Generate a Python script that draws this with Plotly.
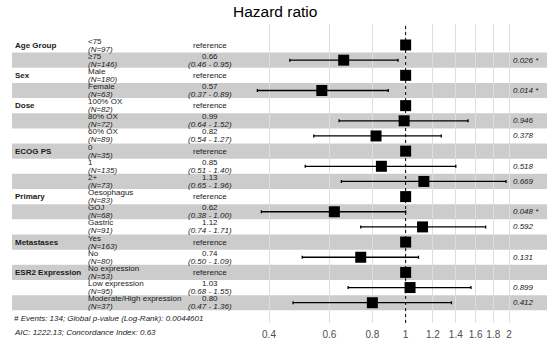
import math
import plotly.graph_objects as go

# ---------------- data ----------------
groups = ["Age Group", "Sex", "Dose", "ECOG PS", "Primary", "Metastases", "ESR2 Expression"]
group_sizes = [2, 2, 3, 3, 3, 2, 3]
levels = ["<75", "\u226575", "Male", "Female", "100% OX", "80% OX", "60% OX",
          "0", "1", "2+", "Oesophagus", "GOJ", "Gastric", "Yes", "No",
          "No expression", "Low expression", "Moderate/High expression"]
n_obs = [97, 146, 180, 63, 82, 72, 89, 35, 135, 73, 83, 68, 91, 163, 80, 53, 95, 37]
hr = [1, 0.66, 1, 0.57, 1, 0.99, 0.82, 1, 0.85, 1.13, 1, 0.62, 1.12, 1, 0.74, 1, 1.03, 0.80]
ci_low = [1, 0.46, 1, 0.37, 1, 0.64, 0.54, 1, 0.51, 0.65, 1, 0.38, 0.74, 1, 0.50, 1, 0.68, 0.47]
ci_high = [1, 0.95, 1, 0.89, 1, 1.52, 1.27, 1, 1.40, 1.96, 1, 1.00, 1.71, 1, 1.09, 1, 1.55, 1.36]
is_ref = [True, False, True, False, True, False, False, True, False, False,
          True, False, False, True, False, True, False, False]
p_values = ["", "0.026 *", "", "0.014 *", "", "0.946", "0.378", "", "0.518", "0.669",
            "", "0.048 *", "0.592", "", "0.131", "", "0.899", "0.412"]
tick_vals = [0.4, 0.6, 0.8, 1, 1.2, 1.4, 1.6, 1.8, 2]
tick_text = ["0.4", "0.6", "0.8", "1", "1.2", "1.4", "1.6", "1.8", "2"]
footer = ["# Events: 134; Global p-value (Log-Rank): 0.0044601",
          "AIC: 1222.13; Concordance Index: 0.63"]
REF_HR = 1

# ---------------- layout helpers ----------------
W, H = 550, 344
TOP, BOTTOM = 24, 323
FONT = "Liberation Sans, Arial, sans-serif"
n_rows = len(levels)
rows = list(range(1, n_rows + 1))
ROW_PX = 15.16
ROW1_PX = 45.0


def py2row(p):
    return 1 + (p - ROW1_PX) / ROW_PX


def px2paper(p):
    return p / W


def py2paper(p):
    return (BOTTOM - p) / (BOTTOM - TOP)


y_range = [py2row(BOTTOM), py2row(TOP)]

fig = go.Figure()

fig.add_trace(go.Scatter(
    x=hr, y=rows, mode="markers",
    marker=dict(symbol="square", size=11, color="black"),
    error_x=dict(type="data", symmetric=False,
                 array=[h - m for h, m in zip(ci_high, hr)],
                 arrayminus=[m - l for m, l in zip(hr, ci_low)],
                 color="black", thickness=1.3, width=1.5),
    hoverinfo="skip", showlegend=False,
))

shapes = []
for r in rows:
    if r % 2 == 0:
        shapes.append(dict(type="rect", xref="paper", yref="y",
                           x0=px2paper(12), x1=px2paper(547),
                           y0=r - 0.5, y1=r + 0.5,
                           fillcolor="rgba(0,0,0,0.2)", line=dict(width=0),
                           layer="between"))
shapes.append(dict(type="line", xref="x", yref="paper", x0=REF_HR, x1=REF_HR,
                   y0=0, y1=1, line=dict(color="black", width=1, dash="dot"),
                   layer="above"))

ann = []
txt = "#1a1a1a"
start = 1
for g, s in zip(groups, group_sizes):
    ann.append(dict(x=px2paper(13), y=start, xref="paper", yref="y", text="<b>%s</b>" % g,
                    showarrow=False, xanchor="left", yanchor="middle",
                    font=dict(family=FONT, size=8, color=txt)))
    start += s

off = 4.0 / ROW_PX
for r, lv, n, h, lo, hi, ref, p in zip(rows, levels, n_obs, hr, ci_low, ci_high, is_ref, p_values):
    ann.append(dict(x=px2paper(86), y=r - off, xref="paper", yref="y", text=lv,
                    showarrow=False, xanchor="left", yanchor="middle",
                    font=dict(family=FONT, size=8, color=txt)))
    ann.append(dict(x=px2paper(86), y=r + off, xref="paper", yref="y", text="<i>(N=%d)</i>" % n,
                    showarrow=False, xanchor="left", yanchor="middle",
                    font=dict(family=FONT, size=8, color=txt)))
    if ref:
        ann.append(dict(x=px2paper(210), y=r, xref="paper", yref="y", text="reference",
                        showarrow=False, xanchor="center", yanchor="middle",
                        font=dict(family=FONT, size=8, color=txt)))
    else:
        ann.append(dict(x=px2paper(210), y=r - off, xref="paper", yref="y", text="%.2f" % h,
                        showarrow=False, xanchor="center", yanchor="middle",
                        font=dict(family=FONT, size=8, color=txt)))
        ann.append(dict(x=px2paper(210), y=r + off, xref="paper", yref="y",
                        text="<i>(%.2f - %.2f)</i>" % (lo, hi),
                        showarrow=False, xanchor="center", yanchor="middle",
                        font=dict(family=FONT, size=8, color=txt)))
    if p:
        ann.append(dict(x=px2paper(511), y=r, xref="paper", yref="y", text="<i>%s</i>" % p,
                        showarrow=False, xanchor="left", yanchor="middle",
                        font=dict(family=FONT, size=8, color=txt)))

for i, line in enumerate(footer):
    ann.append(dict(x=px2paper(12), y=py2paper(318 + 14 * i), xref="paper", yref="paper",
                    text="<i>%s</i>" % line, showarrow=False,
                    xanchor="left", yanchor="middle",
                    font=dict(family=FONT, size=8, color=txt)))

ann.append(dict(x=px2paper(275), y=py2paper(11), xref="paper", yref="paper",
                yanchor="middle", xanchor="center", showarrow=False,
                text="Hazard ratio", font=dict(family=FONT, size=15.5, color="black")))

# x-range so that 0.4 -> 269px and 2 -> 509px
per_px = (math.log10(2) - math.log10(0.4)) / (509 - 269)
x_range = [math.log10(0.4) - 269 * per_px, math.log10(2) + (W - 509) * per_px]

fig.update_layout(
    width=W, height=H,
    margin=dict(l=0, r=0, t=TOP, b=H - BOTTOM),
    paper_bgcolor="white", plot_bgcolor="white",
    xaxis=dict(type="log", range=x_range, tickvals=tick_vals, ticktext=tick_text,
               showgrid=True, gridcolor="#dedede", gridwidth=1, zeroline=False,
               showline=False, ticks="outside", ticklen=2, tickcolor="rgba(0,0,0,0)",
               tickfont=dict(family=FONT, size=10, color="#4d4d4d")),
    yaxis=dict(range=y_range, showgrid=False, zeroline=False, showticklabels=False,
               showline=False),
    shapes=shapes, annotations=ann,
)

fig.write_html("out.html", config={"displayModeBar": False},
               post_script="document.body.style.margin='0';document.body.style.overflow='hidden';")
